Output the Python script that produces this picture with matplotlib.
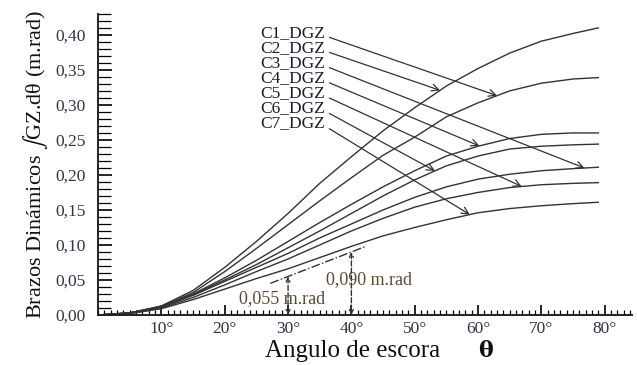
import numpy as np
import matplotlib.pyplot as plt
from matplotlib.ticker import MultipleLocator

plt.rcParams["mathtext.fontset"] = "stix"

# angulo de escora (grados)
angles = [0, 5, 10, 15, 20, 25, 30, 35, 40, 45, 50, 55, 60, 65, 70, 75, 79]

# brazos dinamicos (m.rad), curvas de arriba hacia abajo
curve_a = [0, 0.003, 0.013, 0.035, 0.068, 0.105, 0.145, 0.188, 0.226, 0.263, 0.296, 0.327, 0.352, 0.374, 0.391, 0.402, 0.410]
curve_b = [0, 0.003, 0.012, 0.032, 0.062, 0.095, 0.129, 0.163, 0.196, 0.228, 0.254, 0.283, 0.303, 0.320, 0.331, 0.337, 0.339]
curve_c = [0, 0.003, 0.012, 0.030, 0.053, 0.078, 0.105, 0.132, 0.158, 0.183, 0.206, 0.227, 0.241, 0.252, 0.258, 0.260, 0.260]
curve_d = [0, 0.003, 0.012, 0.029, 0.050, 0.072, 0.096, 0.120, 0.145, 0.170, 0.193, 0.213, 0.227, 0.237, 0.241, 0.243, 0.244]
curve_e = [0, 0.003, 0.011, 0.028, 0.048, 0.068, 0.088, 0.110, 0.130, 0.150, 0.168, 0.183, 0.194, 0.201, 0.206, 0.209, 0.211]
curve_f = [0, 0.002, 0.010, 0.025, 0.043, 0.062, 0.080, 0.100, 0.120, 0.138, 0.154, 0.166, 0.175, 0.182, 0.186, 0.188, 0.189]
curve_g = [0, 0.002, 0.009, 0.022, 0.037, 0.052, 0.066, 0.082, 0.098, 0.113, 0.125, 0.136, 0.146, 0.152, 0.156, 0.159, 0.161]
curves = [curve_a, curve_b, curve_c, curve_d, curve_e, curve_f, curve_g]

# etiquetas y a que curva / angulo apunta cada flecha
labels = ["C1_DGZ", "C2_DGZ", "C3_DGZ", "C4_DGZ", "C5_DGZ", "C6_DGZ", "C7_DGZ"]
label_curve = [1, 0, 4, 2, 5, 3, 6]
label_angle = [63.0, 54.0, 76.8, 60.2, 66.9, 53.2, 58.7]

# criterio: area a 30 y 40 grados
crit_angles = [30, 40]
crit_values = [0.055, 0.090]
crit_texts = ["0,055 m.rad", "0,090 m.rad"]

serif = "Liberation Serif"
ink = "#333333"
brown = "#5c4b2e"

fig = plt.figure(figsize=(6.37, 3.65), dpi=100)
ax = fig.add_axes([0.154, 0.137, 0.838, 0.825])

for c in curves:
    ax.plot(angles, c, color=ink, lw=1.0)

# flechas de las etiquetas
for i, lab in enumerate(labels):
    tx = 35.9
    ty = 0.403 - i * 0.0215
    xa = label_angle[i]
    ya = np.interp(xa, angles, curves[label_curve[i]])
    ax.annotate(lab, xy=(xa, ya), xytext=(tx, ty), ha="right", va="center",
                fontsize=12.5, family=serif, color="#1a1a2a",
                arrowprops=dict(arrowstyle="->", color=ink, lw=0.9,
                                relpos=(1.0, 0.3), shrinkA=1, shrinkB=0))

# linea de criterio (punto-raya) y verticales discontinuas
slope = (crit_values[1] - crit_values[0]) / (crit_angles[1] - crit_angles[0])
xs = np.array([27.2, 42.4])
ax.plot(xs, crit_values[0] + slope * (xs - crit_angles[0]), color=ink, lw=1.0, ls="-.")
for a, v in zip(crit_angles, crit_values):
    ax.annotate("", xy=(a, 0), xytext=(a, v),
                arrowprops=dict(arrowstyle="<->", color=ink, lw=1.0, ls="--",
                                shrinkA=0, shrinkB=0, mutation_scale=7))
ax.text(22.2, 0.024, crit_texts[0], fontsize=13, family=serif, color=brown, va="center")
ax.text(36.0, 0.051, crit_texts[1], fontsize=13, family=serif, color=brown, va="center")

ax.set_xlim(0, 84.3)
ax.set_ylim(0, 0.43)
ax.spines["top"].set_visible(False)
ax.spines["right"].set_visible(False)
for s in ("left", "bottom"):
    ax.spines[s].set_linewidth(1.4)
    ax.spines[s].set_color("#222222")

ax.set_xticks(range(10, 81, 10))
ax.set_xticklabels([f"{d}°" for d in range(10, 81, 10)])
ax.xaxis.set_minor_locator(MultipleLocator(1))
ax.set_yticks(np.arange(0, 0.401, 0.05))
ax.set_yticklabels([f"{v:.2f}".replace(".", ",") for v in np.arange(0, 0.401, 0.05)])
ax.yaxis.set_minor_locator(MultipleLocator(0.01))

ax.tick_params(axis="x", which="major", direction="in", length=7, width=1.2, pad=4)
ax.tick_params(axis="x", which="minor", direction="in", length=3.5, width=0.9)
ax.tick_params(axis="y", which="major", direction="in", length=10, width=1.2, pad=9)
ax.tick_params(axis="y", which="minor", direction="in", length=9, width=0.9)
for t in ax.get_xticklabels() + ax.get_yticklabels():
    t.set_family(serif)
    t.set_fontsize(12.5)
    t.set_color("#333344")

# titulo eje x: texto + theta en negrita
fig.text(265 / 637, 1 - 351 / 365, "Angulo de escora", family=serif, fontsize=18,
         va="center", ha="left", color="#111111")
fig.text(478 / 637, 1 - 351 / 365, "θ", family="DejaVu Serif", fontsize=16,
         fontweight="bold", va="center", ha="left", color="#111111")

ax.set_ylabel("Brazos Dinámicos $\\int$GZ.dθ (m.rad)", family=serif,
              fontsize=16, labelpad=4, color="#111111")

fig.savefig("out.png", dpi=100)
